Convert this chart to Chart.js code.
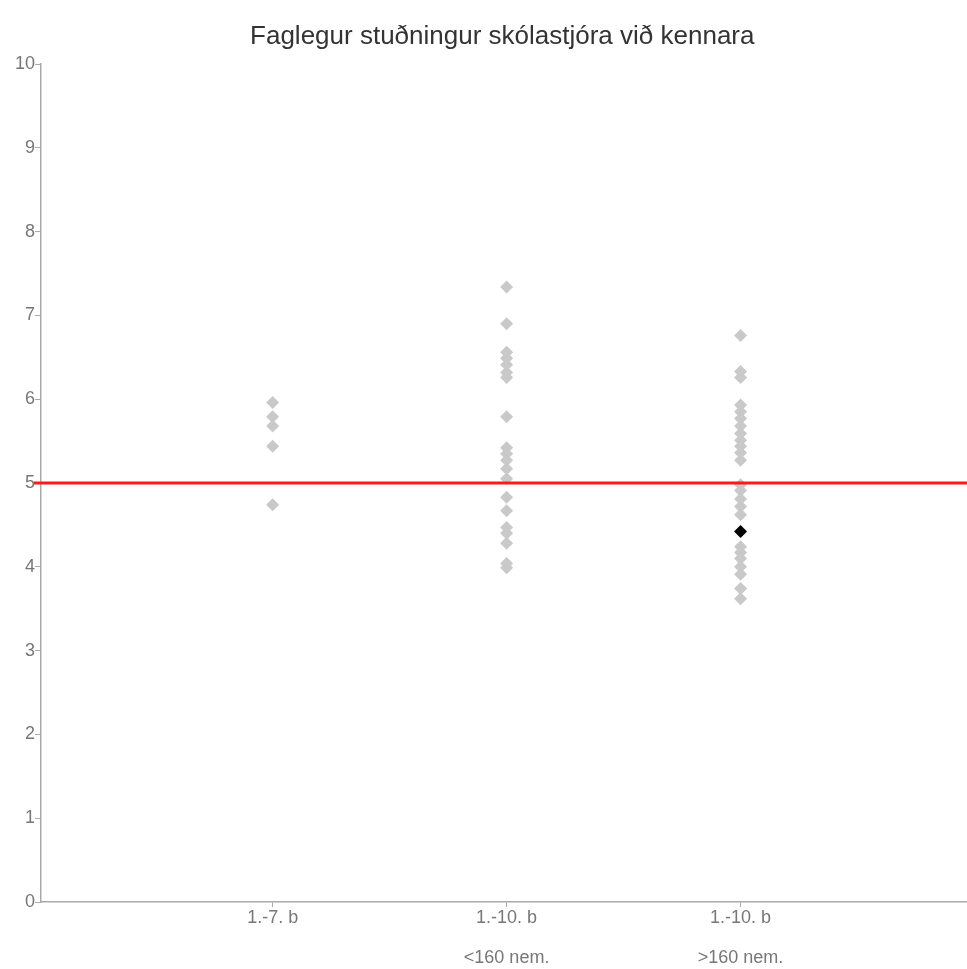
<!DOCTYPE html>
<html>
<head>
<meta charset="utf-8">
<script src="https://cdn.jsdelivr.net/npm/chart.js@4.4.1/dist/chart.umd.min.js"></script>
<style>
  html, body { margin: 0; padding: 0; background: #fff; overflow: hidden; }
  #clip { width: 967px; height: 969px; overflow: hidden; }
  #wrap { width: 974px; height: 969px; position: relative; }
  canvas { display: block; }
</style>
</head>
<body>
<div id="clip"><div id="wrap"><canvas id="scatterChart"></canvas></div></div>
<script>
// chart data
const chartTitle = 'Faglegur stuðningur skólastjóra við kennara';
const categories = [['1.-7. b'], ['1.-10. b', '<160 nem.'], ['1.-10. b', '>160 nem.']];
const yTicks = [0, 1, 2, 3, 4, 5, 6, 7, 8, 9, 10];
const referenceLevel = 5;

const group1 = [5.96, 5.79, 5.68, 5.44, 4.74];
const group2 = [7.34, 6.90, 6.56, 6.49, 6.41, 6.32, 6.26, 5.79, 5.42, 5.35, 5.27, 5.17, 5.05,
                4.83, 4.67, 4.47, 4.40, 4.28, 4.04, 3.99];
const group3 = [6.76, 6.33, 6.26, 5.93, 5.85, 5.77, 5.68, 5.59, 5.51, 5.44, 5.36, 5.27, 4.98,
                4.91, 4.81, 4.72, 4.62, 4.24, 4.17, 4.10, 4.00, 3.91, 3.74, 3.62];
const highlightGroup = 3;
const highlightValue = 4.42;

const toPoints = (x, vals) => vals.map(v => ({ x: x, y: v }));
const FONT = '"Liberation Sans", Arial, sans-serif';

// title centred over the plot area
const titlePlugin = {
  id: 'plotTitle',
  afterDraw(chart) {
    const { ctx, chartArea } = chart;
    ctx.save();
    ctx.font = '26px ' + FONT;
    ctx.fillStyle = '#333';
    ctx.textAlign = 'center';
    ctx.textBaseline = 'middle';
    ctx.fillText(chartTitle, (chartArea.left + chartArea.right) / 2 - 2, 37);
    ctx.restore();
  }
};

const grey = '#c9c9c9';
const ctx = document.getElementById('scatterChart').getContext('2d');
new Chart(ctx, {
  type: 'scatter',
  data: {
    datasets: [
      {
        label: 'Viðmið',
        type: 'line',
        data: [{ x: -0.02, y: referenceLevel }, { x: categories.length + 1, y: referenceLevel }],
        borderColor: '#ff1a1a',
        borderWidth: 3,
        pointRadius: 0,
        clip: false,
        order: 0
      },
      {
        label: categories[0].join(' '),
        data: toPoints(1, group1),
        pointStyle: 'rectRot', pointRadius: 6.5,
        backgroundColor: grey, borderColor: grey, borderWidth: 0,
        order: 2
      },
      {
        label: categories[1].join(' '),
        data: toPoints(2, group2),
        pointStyle: 'rectRot', pointRadius: 6.5,
        backgroundColor: grey, borderColor: grey, borderWidth: 0,
        order: 2
      },
      {
        label: categories[2].join(' '),
        data: toPoints(3, group3),
        pointStyle: 'rectRot', pointRadius: 6.5,
        backgroundColor: grey, borderColor: grey, borderWidth: 0,
        order: 2
      },
      {
        label: 'Skóli',
        data: [{ x: highlightGroup, y: highlightValue }],
        pointStyle: 'rectRot', pointRadius: 6.5,
        backgroundColor: '#000', borderColor: '#000', borderWidth: 0,
        order: 1
      }
    ]
  },
  options: {
    responsive: true,
    maintainAspectRatio: false,
    animation: false,
    layout: { padding: { top: 64, right: 0, left: 15, bottom: 0 } },
    plugins: {
      legend: { display: false },
      tooltip: { enabled: false },
      title: { display: false }
    },
    scales: {
      x: {
        type: 'linear',
        min: 0.01,
        max: 3.97,
        afterBuildTicks: axis => { axis.ticks = categories.map((c, i) => ({ value: i + 1 })); },
        ticks: {
          callback: v => categories[v - 1],
          color: '#777',
          font: { family: FONT, size: 18, lineHeight: 40 / 18 },
          padding: -9,
          maxRotation: 0
        },
        grid: { drawOnChartArea: false, drawTicks: true, tickLength: 5, color: '#aaa' },
        border: { color: '#aaa', width: 1.5 }
      },
      y: {
        min: 0,
        max: 10,
        afterBuildTicks: axis => { axis.ticks = yTicks.map(v => ({ value: v })); },
        ticks: {
          color: '#777',
          font: { family: FONT, size: 18 },
          padding: 0
        },
        grid: { drawOnChartArea: false, drawTicks: true, tickLength: 6, color: '#aaa' },
        border: { color: '#aaa', width: 1.5 }
      }
    }
  },
  plugins: [titlePlugin]
});
</script>
</body>
</html>
